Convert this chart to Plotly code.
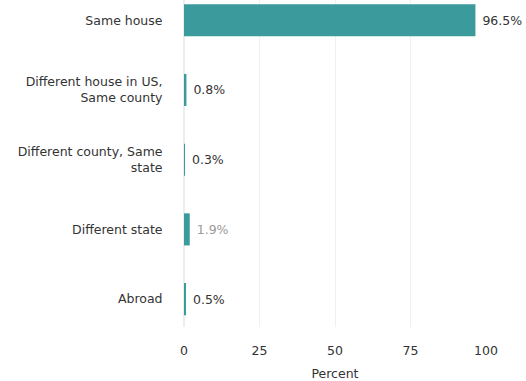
import plotly.graph_objects as go

# Residence one year ago, share of population
categories = [
    "Same house",
    "Different house in US,<br>Same county",
    "Different county, Same<br>state",
    "Different state",
    "Abroad",
]
percents = [96.5, 0.8, 0.3, 1.9, 0.5]
label_colors = ["#333333", "#333333", "#333333", "#9a9a9a", "#333333"]
x_ticks = [0, 25, 50, 75, 100]

FONT = "DejaVu Sans"

fig = go.Figure(
    go.Bar(
        x=percents,
        y=categories,
        orientation="h",
        width=0.46,
        marker=dict(color="#3a9a9c", line=dict(width=0)),
        text=[f" {v}%" for v in percents],
        textposition="outside",
        textfont=dict(color=label_colors, size=12.5, family=FONT),
        cliponaxis=False,
    )
)

fig.update_layout(
    width=526,
    height=381,
    margin=dict(l=184, r=40, t=0, b=54),
    paper_bgcolor="white",
    plot_bgcolor="white",
    font=dict(family=FONT, size=12.5, color="#333333"),
    showlegend=False,
)

fig.update_xaxes(
    range=[0, 100],
    tickvals=x_ticks,
    showgrid=True,
    gridcolor="#f0f0f0",
    zeroline=True,
    zerolinecolor="#eeeeee",
    showline=False,
    ticks="outside",
    ticklen=12,
    tickcolor="white",
    automargin=False,
    title=dict(text="Percent", standoff=14, font=dict(size=12.5)),
)

fig.update_yaxes(
    categoryorder="array",
    categoryarray=categories,
    range=[4.4, -0.29],
    showgrid=False,
    zeroline=False,
    showline=False,
    ticks="outside",
    ticklen=18,
    tickcolor="white",
    automargin=False,
)

fig.write_html("out.html")
